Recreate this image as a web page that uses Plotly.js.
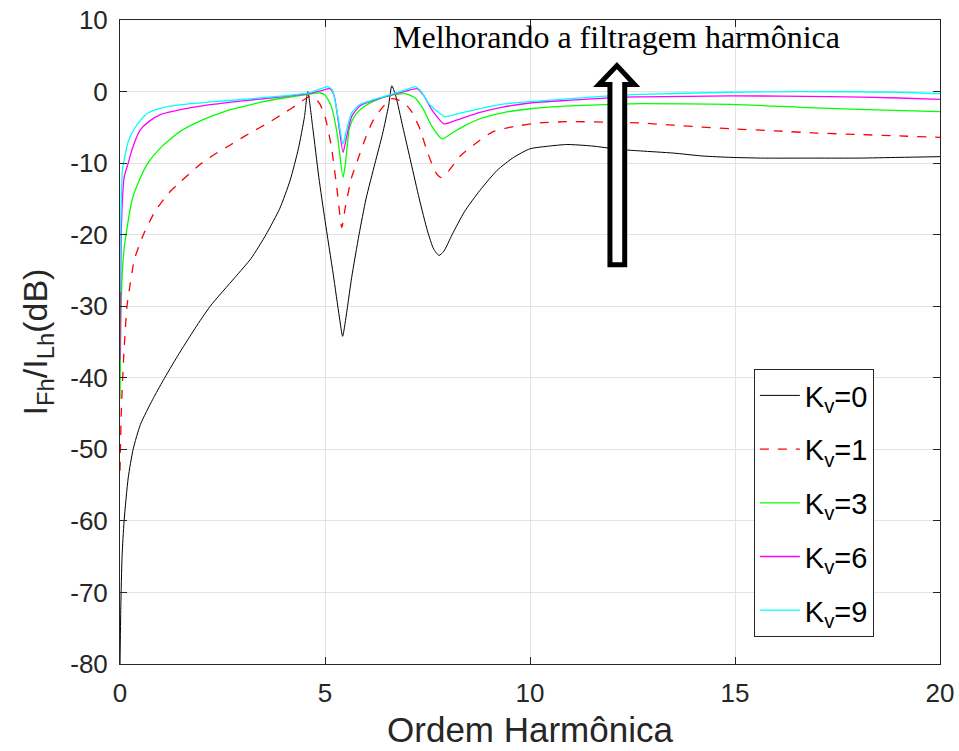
<!DOCTYPE html>
<html>
<head>
<meta charset="utf-8">
<script src="https://cdn.plot.ly/plotly-3.0.1.min.js"></script>
<style>html,body{margin:0;padding:0;background:#fff;}#chart{width:959px;height:751px;}</style>
</head>
<body>
<div id="chart"></div>
<script>
// Kv = 0
const x0 = [0, 0.02, 0.05, 0.1, 0.2, 0.32, 0.5, 0.8, 1.05, 1.4, 1.83, 2.2, 2.8, 3.2, 3.56, 3.9, 4.15, 4.35, 4.5, 4.58, 4.7, 4.85, 5.0, 5.2, 5.35, 5.43, 5.5, 5.65, 5.83, 6.0, 6.22, 6.4, 6.55, 6.63, 6.72, 6.9, 7.1, 7.3, 7.5, 7.65, 7.78, 7.9, 8.1, 8.4, 8.78, 9.2, 9.6, 10.0, 10.5, 10.9, 11.5, 12.2, 12.7, 13.5, 14.2, 14.9, 15.7, 17, 18, 19, 20];
const y0 = [-80, -72, -65, -60, -54, -50, -46.5, -43, -40.4, -37, -33.1, -30, -26, -23.3, -20, -16.3, -12.4, -8, -3.5, 0, -5, -12, -18, -25.5, -31.5, -34.2, -32, -26, -20, -15, -10, -6, -2, 0.8, -0.5, -5, -10, -15, -19.5, -22, -22.9, -22.3, -20, -16.8, -13.8, -11, -9.2, -8, -7.6, -7.4, -7.6, -8.1, -8.3, -8.6, -9, -9.2, -9.3, -9.3, -9.3, -9.2, -9.1];
// Kv = 1
const x1 = [0, 0.01, 0.03, 0.05, 0.1, 0.17, 0.22, 0.35, 0.57, 0.85, 1.17, 1.46, 1.95, 2.3, 2.68, 2.88, 3.2, 3.58, 4.0, 4.3, 4.55, 4.63, 4.75, 4.88, 5.0, 5.15, 5.3, 5.41, 5.5, 5.65, 5.8, 6.0, 6.15, 6.35, 6.5, 6.63, 6.8, 7.0, 7.1, 7.3, 7.5, 7.7, 7.83, 8.0, 8.3, 8.78, 9.1, 9.6, 10.2, 11, 12, 12.7, 13.5, 14.9, 16, 17, 18, 19, 20];
const y1 = [-53, -50, -45, -42, -36, -30, -28, -23.5, -20, -16.8, -14.3, -12.7, -10.2, -8.8, -7.5, -6.8, -5.7, -4.5, -3.0, -1.9, -0.9, -0.7, -0.9, -1.8, -3.5, -7.5, -14, -19, -16, -12, -9.5, -6.3, -4.3, -2.6, -1.6, -1.0, -1.2, -2.0, -2.7, -5, -8.5, -11.3, -12, -11.2, -9, -6.8, -5.6, -4.9, -4.4, -4.2, -4.3, -4.4, -4.7, -5.2, -5.5, -5.8, -6.0, -6.2, -6.4];
// Kv = 3
const x3 = [0, 0.01, 0.03, 0.05, 0.1, 0.16, 0.3, 0.5, 0.68, 1.0, 1.46, 2.0, 2.6, 3.0, 3.5, 4.0, 4.6, 4.88, 5.0, 5.15, 5.3, 5.44, 5.5, 5.6, 5.75, 5.93, 6.2, 6.63, 6.95, 7.2, 7.4, 7.6, 7.85, 8.1, 8.4, 8.78, 9.3, 10, 11, 12, 12.7, 14.9, 16.6, 18, 20];
const y3 = [-43, -37, -30, -26, -22, -19.5, -15, -12, -10, -7.8, -5.6, -4.0, -2.7, -2.1, -1.4, -0.9, -0.4, -0.2, -0.5, -2, -6, -12, -10, -5, -3.2, -2.2, -1.3, -0.5, -0.3, -0.9, -2.5, -4.8, -6.6, -5.8, -4.8, -3.8, -3, -2.4, -2.0, -1.8, -1.7, -1.8, -2.2, -2.5, -2.8];
// Kv = 6
const x6 = [0, 0.01, 0.03, 0.06, 0.1, 0.2, 0.3, 0.49, 0.7, 1.0, 1.5, 2.0, 3.0, 4.0, 4.6, 4.9, 5.12, 5.22, 5.32, 5.44, 5.52, 5.65, 5.85, 6.2, 6.6, 7.0, 7.24, 7.4, 7.6, 7.9, 8.2, 8.78, 9.3, 10, 11, 12.2, 12.7, 14.9, 17.3, 19, 20];
const y6 = [-37.5, -30, -20, -15, -12, -10, -8, -5.4, -4.2, -3.2, -2.5, -2.0, -1.3, -0.7, -0.3, 0.1, 0.4, -0.5, -4, -8.5, -6.5, -3.5, -2.0, -1.2, -0.5, 0.1, 0.4, -0.5, -2.5, -4.5, -4, -2.9, -2.2, -1.6, -1.2, -0.8, -0.75, -0.6, -0.7, -0.9, -1.1];
// Kv = 9
const x9 = [0, 0.01, 0.03, 0.06, 0.12, 0.2, 0.33, 0.5, 0.68, 1.0, 1.4, 2.3, 3.0, 4.0, 4.6, 4.9, 5.07, 5.18, 5.3, 5.44, 5.52, 5.65, 5.85, 6.2, 6.6, 7.0, 7.2, 7.35, 7.55, 7.93, 8.3, 8.78, 9.3, 10, 11, 12.2, 12.7, 14.9, 16.6, 19, 20];
const y9 = [-28, -22, -15, -11, -9, -7, -5.4, -4, -3, -2.3, -1.9, -1.4, -1.1, -0.6, -0.2, 0.4, 0.7, 0.2, -3, -7.3, -5.5, -3, -1.8, -1.1, -0.4, 0.3, 0.7, 0, -1.8, -3.5, -3, -2.4, -1.8, -1.4, -1.0, -0.5, -0.4, -0.1, 0, -0.1, -0.3];

const seriesNames = ['K<sub>v</sub>=0', 'K<sub>v</sub>=1', 'K<sub>v</sub>=3', 'K<sub>v</sub>=6', 'K<sub>v</sub>=9'];
const seriesColors = ['#000000', '#ff0000', '#00ff00', '#ff00ff', '#00ffff'];
const seriesDash = ['solid', 'dash', 'solid', 'solid', 'solid'];
const xs = [x0, x1, x3, x6, x9];
const ys = [y0, y1, y3, y6, y9];

const xTickVals = [0, 5, 10, 15, 20];
const xTickText = ['0', '5', '10', '15', '20'];
const yTickVals = [10, 0, -10, -20, -30, -40, -50, -60, -70, -80];
const yTickText = ['10', '0', '-10', '-20', '-30', '-40', '-50', '-60', '-70', '-80'];

const annotationText = 'Melhorando a filtragem harmônica';
const xTitle = 'Ordem Harmônica';
const yTitle = 'I<sub>Fh</sub>/I<sub>Lh</sub>(dB)';

const traces = xs.map((xv, i) => ({
  type: 'scatter', mode: 'lines', x: xv, y: ys[i], name: seriesNames[i],
  legendgroup: 'g' + i,
  line: {color: seriesColors[i], width: i === 0 ? 1 : 1.3, dash: seriesDash[i], shape: 'spline', smoothing: 0.6}
}));

const axisCommon = {
  showline: true, linecolor: '#262626', linewidth: 1, mirror: 'ticks',
  ticks: 'inside', ticklen: 7, tickcolor: '#262626', tickwidth: 1,
  showgrid: true, gridcolor: '#e3e3e3', gridwidth: 1, zeroline: false,
  tickfont: {family: 'Arial, Liberation Sans, sans-serif', size: 26, color: '#262626'}
};

const layout = {
  width: 959, height: 751,
  margin: {l: 120, r: 19, t: 20, b: 87},
  paper_bgcolor: '#ffffff', plot_bgcolor: '#ffffff',
  showlegend: true,
  xaxis: Object.assign({}, axisCommon, {
    range: [0, 20], tickmode: 'array', tickvals: xTickVals, ticktext: xTickText, ticklabelstandoff: 6,
    title: {text: xTitle, font: {family: 'Arial, Liberation Sans, sans-serif', size: 35, color: '#262626'}, standoff: 10}
  }),
  yaxis: Object.assign({}, axisCommon, {
    range: [-80, 10], tickmode: 'array', tickvals: yTickVals, ticktext: yTickText, ticklabelstandoff: 6,
    title: {text: yTitle, font: {family: 'Arial, Liberation Sans, sans-serif', size: 34, color: '#262626'}, standoff: 12}
  }),
  legend: {
    x: 0.773, y: 0.458, xanchor: 'left', yanchor: 'top',
    bgcolor: '#ffffff', bordercolor: '#262626', borderwidth: 1,
    font: {family: 'Arial, Liberation Sans, sans-serif', size: 29, color: '#000000'},
    traceorder: 'grouped', tracegroupgap: 13, itemwidth: 40
  },
  annotations: [{
    xref: 'x', yref: 'y', x: 12.12, y: 7.68, text: annotationText, showarrow: false,
    xanchor: 'center', yanchor: 'middle',
    font: {family: 'Liberation Serif, Times New Roman, serif', size: 32, color: '#000000'}
  }],
  shapes: [{
    type: 'path', xref: 'x', yref: 'y',
    path: 'M 11.95,-24.2 L 11.95,0.98 L 11.68,0.98 L 12.12,3.63 L 12.55,0.98 L 12.31,0.98 L 12.31,-24.2 Z',
    line: {color: '#000000', width: 5}, fillcolor: '#ffffff'
  }]
};

Plotly.newPlot('chart', traces, layout, {displayModeBar: false, staticPlot: true});
</script>
</body>
</html>
